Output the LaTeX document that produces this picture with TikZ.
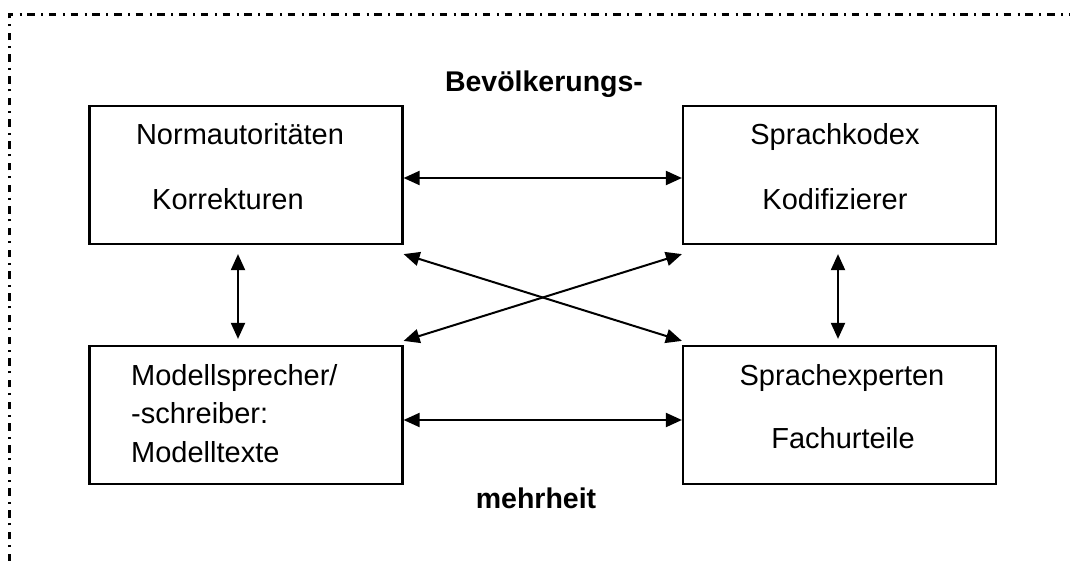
\documentclass[tikz,border=0pt]{standalone}
\usepackage{fontspec}
\setmainfont{Liberation Sans}
\usetikzlibrary{arrows.meta}
\begin{document}
\begin{tikzpicture}[x=1pt,y=-1pt,
  box/.style={draw,line width=2.2pt,minimum width=313pt,minimum height=138pt,inner sep=0pt},
  txt/.style={inner sep=0pt,font=\fontsize{29}{34}\selectfont,anchor=base},
  head/.style={inner sep=0pt,font=\fontsize{28.5}{34}\selectfont\bfseries,anchor=base},
  arr/.style={line width=2pt,{Triangle[length=16pt,width=14pt]}-{Triangle[length=16pt,width=14pt]}},
  frame/.style={line width=2.2pt,dash pattern=on 7.5pt off 6.5pt on 2pt off 5.7pt}]
\useasboundingbox (0,0) rectangle (1070,561);

% dash-dotted frame along the top and left
\draw[frame] (9.5,561) -- (9.5,14.5) -- (1070,14.5);

% the four boxes
\node[box] (b1) at (246,175) {};
\node[box] (b2) at (839.5,175) {};
\node[box] (b3) at (246,415) {};
\node[box] (b4) at (839.5,415) {};

% box texts
\node[txt] (t1a) at (240,145) {Normautoritäten};
\node[txt] (t1b) at (228,210) {Korrekturen};
\node[txt] (t2a) at (835,145) {Sprachkodex};
\node[txt] (t2b) at (835,210) {Kodifizierer};
\node[txt,anchor=base west] (t3a) at (131,385) {Modellsprecher/};
\node[txt,anchor=base west] (t3b) at (131,423) {-schreiber:};
\node[txt,anchor=base west] (t3c) at (131,462) {Modelltexte};
\node[txt] (t4a) at (842,385) {Sprachexperten};
\node[txt] (t4b) at (843,448) {Fachurteile};

% caption split above and below
\node[head] (h1) at (544,92) {Bevölkerungs-};
\node[head] (h2) at (536,508) {mehrheit};

% connectors
\draw[arr] ([yshift=-3pt]b1.east) -- ([yshift=-3pt]b2.west);
\draw[arr] ([yshift=-5pt]b3.east) -- ([yshift=-5pt]b4.west);
\draw[arr] ([yshift=-9pt]b1.south east) -- ([yshift=4pt]b4.north west);
\draw[arr] ([yshift=-9pt]b2.south west) -- ([yshift=4pt]b3.north east);
\draw[arr] ([xshift=-8pt,yshift=-9pt]b1.south) -- ([xshift=-8pt,yshift=6pt]b3.north);
\draw[arr] ([xshift=-1.5pt,yshift=-9pt]b2.south) -- ([xshift=-1.5pt,yshift=6pt]b4.north);
\end{tikzpicture}
\end{document}
